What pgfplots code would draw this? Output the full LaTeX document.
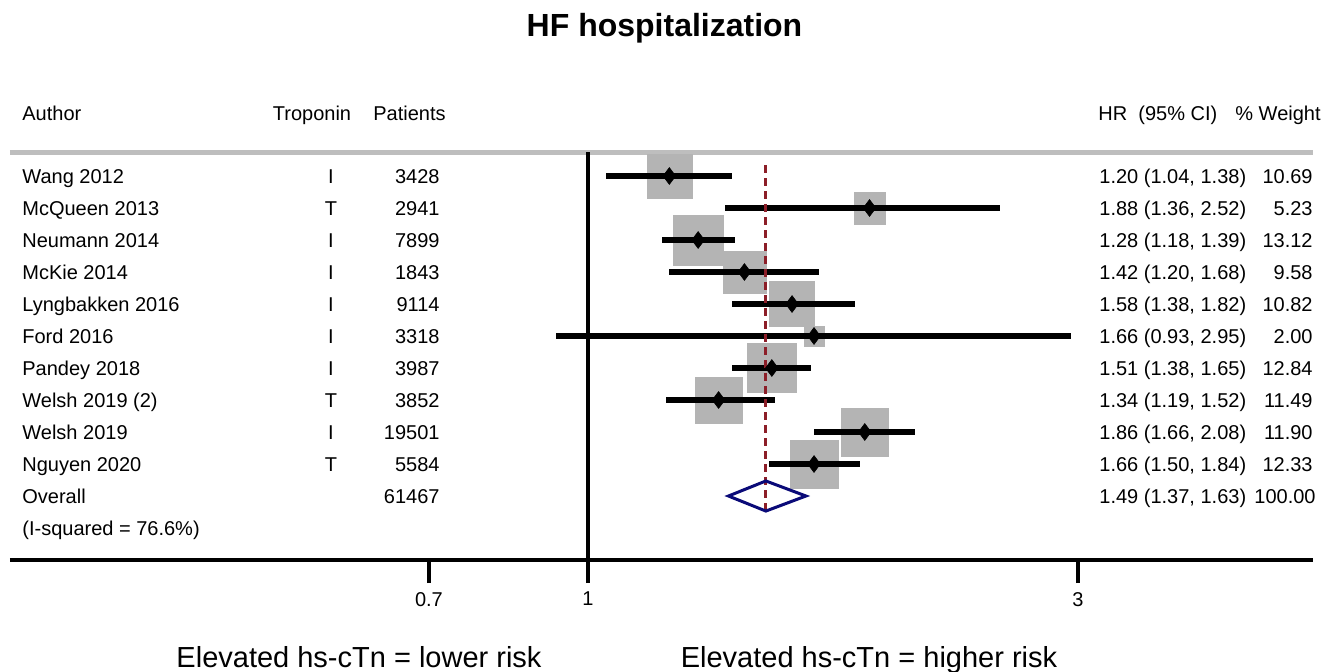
\documentclass[border=0pt]{standalone}
\usepackage{fontspec}
\setmainfont{Liberation Sans}
\usepackage{pgfplots}
\usepackage{pgfplotstable}
\pgfplotsset{compat=1.18}

\definecolor{boxgray}{RGB}{180,180,180}
\definecolor{rulegray}{RGB}{190,190,190}
\definecolor{refred}{RGB}{140,30,40}
\definecolor{navyblue}{RGB}{10,10,120}
\newcommand\tf{\fontsize{10}{12}\selectfont}

% one row per study, row = line number from the top
\pgfplotstableread[col sep=semicolon]{
row;author;trop;pat;hr;lo;hi;w;ci
1;Wang 2012;I;3428;1.20;1.04;1.38;10.69;1.20 (1.04, 1.38)
2;McQueen 2013;T;2941;1.88;1.36;2.52;5.23;1.88 (1.36, 2.52)
3;Neumann 2014;I;7899;1.28;1.18;1.39;13.12;1.28 (1.18, 1.39)
4;McKie 2014;I;1843;1.42;1.20;1.68;9.58;1.42 (1.20, 1.68)
5;Lyngbakken 2016;I;9114;1.58;1.38;1.82;10.82;1.58 (1.38, 1.82)
6;Ford 2016;I;3318;1.66;0.93;2.95;2.00;1.66 (0.93, 2.95)
7;Pandey 2018;I;3987;1.51;1.38;1.65;12.84;1.51 (1.38, 1.65)
8;Welsh 2019 (2);T;3852;1.34;1.19;1.52;11.49;1.34 (1.19, 1.52)
9;Welsh 2019;I;19501;1.86;1.66;2.08;11.90;1.86 (1.66, 2.08)
10;Nguyen 2020;T;5584;1.66;1.50;1.84;12.33;1.66 (1.50, 1.84)
}\studies

\pgfplotsset{
  frame/.style={scale only axis, width=651.5pt, height=204pt,
    at={(5pt,55.5pt)}, anchor=south west,
    ymin=-13, ymax=-0.25, clip=false},
  col/.style={only marks, mark=none, nodes near coords,
    point meta=explicit symbolic,
    nodes near coords style={anchor=base #1, inner sep=0pt, yshift=-3.6pt, font=\tf, text=black}},
}

\begin{document}
\begin{tikzpicture}
\useasboundingbox (0,0) rectangle (668pt,335.5pt);

% text columns, x in pixels of the figure
\begin{axis}[frame, xmin=10, xmax=1313, hide axis]
\addplot[col=west] table[x expr=22, y expr=-\thisrow{row}, meta=author] {\studies};
\addplot[col=] table[x expr=331, y expr=-\thisrow{row}, meta=trop] {\studies};
\addplot[col=east] table[x expr=440, y expr=-\thisrow{row}, meta=pat] {\studies};
\addplot[col=west] table[x expr=1099, y expr=-\thisrow{row}, meta=ci] {\studies};
\addplot[col=east] table[x expr=1313, y expr=-\thisrow{row}, meta=w] {\studies};

\begin{scope}[every node/.style={font=\tf, inner sep=0pt, yshift=-3.6pt}]
\node[anchor=base west] at (axis cs:22,0.97) {Author};
\node[anchor=base] at (axis cs:312,0.97) {Troponin};
\node[anchor=base west] at (axis cs:373,0.97) {Patients};
\node[anchor=base west] at (axis cs:1098,0.97) {HR\ \ (95\% CI)};
\node[anchor=base east] at (axis cs:1321,0.97) {\% Weight};
\node[anchor=base west] at (axis cs:22,-11) {Overall};
\node[anchor=base east] at (axis cs:440,-11) {61467};
\node[anchor=base west] at (axis cs:1099,-11) {1.49 (1.37, 1.63)};
\node[anchor=base east] at (axis cs:1316,-11) {100.00};
\node[anchor=base west] at (axis cs:22,-12) {(I-squared = 76.6\%)};
\end{scope}
\end{axis}

% forest plot on a log scale
\begin{axis}[frame, xmode=log, xmin=0.2736, xmax=5.081,
  clip marker paths=true,
  axis x line=bottom, axis y line=none,
  x axis line style={-, line width=2.25pt, black},
  xtick={0.7,1,3}, xticklabels={0.7,1,3}, minor xtick={},
  tick align=outside, major tick length=11.5pt,
  xtick style={line width=2pt, black},
  xticklabel style={font=\tf, yshift=-1pt},
]
\draw[rulegray, line width=2.5pt] (rel axis cs:0,1) -- (rel axis cs:1,1);
\addplot[black, line width=1.75pt] coordinates {(1,-0.25) (1,-13)};

\addplot[only marks, mark=square*, mark options={fill=boxgray, draw=boxgray, line width=0.1pt},
  scatter, visualization depends on={\thisrow{w} \as \wt},
  scatter/@pre marker code/.code={\pgfmathsetmacro\msz{3.42*sqrt(\wt)}\scope[mark size=\msz pt]},
  scatter/@post marker code/.code={\endscope}]
  table[x=hr, y expr=-\thisrow{row}] {\studies};

\addplot[only marks, mark=none,
  error bars/.cd, x dir=both, x explicit, error mark=none,
  error bar style={draw=black, line width=2.6pt}]
  table[x=hr, y expr=-\thisrow{row},
    x error plus expr=\thisrow{hi}-\thisrow{hr},
    x error minus expr=\thisrow{hr}-\thisrow{lo}] {\studies};

\addplot[refred, line width=1.5pt, dash pattern=on 4pt off 2.5pt] coordinates {(1.49,-0.66) (1.49,-11.5)};

\addplot[only marks, mark=diamond*, mark size=4.2pt, mark options={fill=black, draw=black, line width=0.3pt}]
  table[x=hr, y expr=-\thisrow{row}] {\studies};

\addplot[navyblue, line width=1.5pt, line join=miter]
  coordinates {(1.37,-11) (1.49,-10.53) (1.63,-11) (1.49,-11.47)} -- cycle;
\end{axis}

\node[anchor=base, font=\bfseries\fontsize{16}{19}\selectfont] at (332.25pt,317pt) {HF hospitalization};
\node[anchor=base, font=\fontsize{14.5}{17}\selectfont] at (179.5pt,2pt) {Elevated hs-cTn = lower risk};
\node[anchor=base, font=\fontsize{14.5}{17}\selectfont] at (434.5pt,2pt) {Elevated hs-cTn = higher risk};
\end{tikzpicture}
\end{document}
